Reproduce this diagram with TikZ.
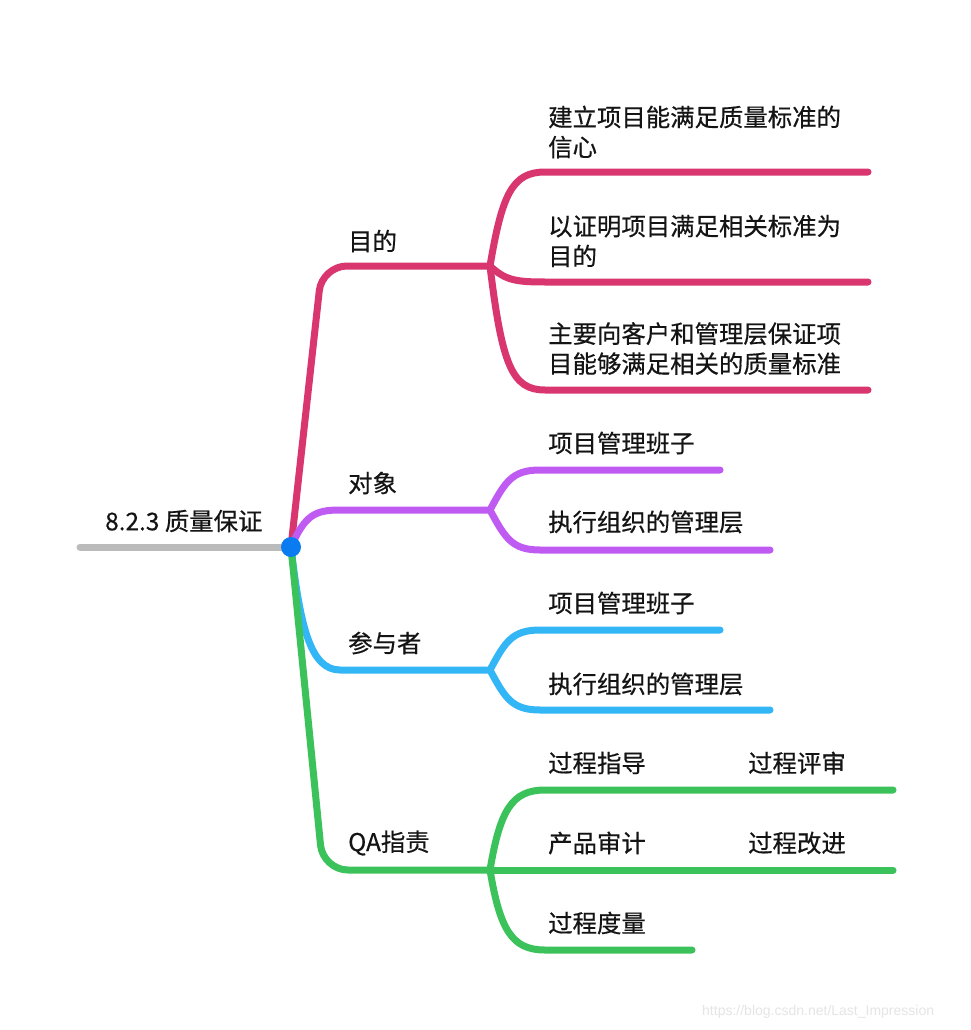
\documentclass[tikz,border=0pt]{standalone}
\usepackage{fontspec}
\newfontfamily\cjk{Noto Sans CJK SC}[BoldFont={Noto Sans CJK SC}, BoldFeatures={FakeBold=0.5}]
\newfontfamily\wmfont{Liberation Sans}
\definecolor{pinkc}{HTML}{D9366F}
\definecolor{purplec}{HTML}{BF5AF2}
\definecolor{bluec}{HTML}{32B6F5}
\definecolor{greenc}{HTML}{3CC25A}
\definecolor{grayc}{HTML}{BBBBBB}
\definecolor{dotc}{HTML}{0A7BF0}
\begin{document}
\begin{tikzpicture}[x=1pt,y=-1pt,
  br/.style={line width=7pt, line cap=round, line join=round},
  lbl/.style={font=\cjk\bfseries\fontsize{24.4}{30}\selectfont, anchor=west, inner sep=0pt, align=left, text=black!92}]
\useasboundingbox (0,0) rectangle (971,1030);
\fill[white] (0,0) rectangle (971,1030);
% coordinates
\coordinate (c) at (291,547);
\coordinate (L) at (80,547);
\coordinate (j1) at (490,266);
\coordinate (j2) at (490,510);
\coordinate (j3) at (490,670);
\coordinate (j4) at (490,870);
\coordinate (p1) at (868,172);
\coordinate (p2) at (868,282);
\coordinate (p3) at (868,390);
\coordinate (u1) at (720,470);
\coordinate (u2) at (770,550);
\coordinate (b1) at (720,630);
\coordinate (b2) at (770,710);
\coordinate (g1) at (893,790);
\coordinate (g2) at (893,870);
\coordinate (g3) at (692,950);
% root line
\draw[br, grayc] (L) -- (c);
% branch 1
\draw[br, pinkc, rounded corners=25pt] (c) -- (322,266) -- (j1);
\draw[br, pinkc] (j1) .. controls (502,195) and (512,172) .. (545,172) -- (p1);
\draw[br, pinkc] (j1) .. controls (505,280) and (515,282) .. (545,282) -- (p2);
\draw[br, pinkc] (j1) .. controls (502,365) and (512,390) .. (545,390) -- (p3);
% branch 2
\draw[br, purplec] (c) .. controls (305,515) and (315,510) .. (340,510) -- (j2);
\draw[br, purplec] (j2) .. controls (505,482) and (512,470) .. (540,470) -- (u1);
\draw[br, purplec] (j2) .. controls (505,538) and (512,550) .. (540,550) -- (u2);
% branch 3
\draw[br, bluec] (c) .. controls (300,625) and (310,670) .. (340,670) -- (j3);
\draw[br, bluec] (j3) .. controls (505,642) and (512,630) .. (540,630) -- (b1);
\draw[br, bluec] (j3) .. controls (505,698) and (512,710) .. (540,710) -- (b2);
% branch 4
\draw[br, greenc, rounded corners=25pt] (c) -- (323,870) -- (j4);
\draw[br, greenc] (j4) .. controls (500,810) and (512,790) .. (545,790) -- (g1);
\draw[br, greenc] (j4) -- (g2);
\draw[br, greenc] (j4) .. controls (500,930) and (512,950) .. (545,950) -- (g3);
% root dot
\node[circle, fill=dotc, minimum size=20pt, inner sep=0pt] (root) at (c) {};
% labels
\node[lbl] (t0) at (105,521) {8.2.3 质量保证};
\node[lbl] (t1) at (348,241) {目的};
\node[lbl] (t2) at (348,483) {对象};
\node[lbl] (t3) at (348,643) {参与者};
\node[lbl] (t4) at (348,843) {QA指责};
\node[lbl] (s11) at (548,132) {建立项目能满足质量标准的\\信心};
\node[lbl] (s12) at (548,241) {以证明项目满足相关标准为\\目的};
\node[lbl] (s13) at (548,348.5) {主要向客户和管理层保证项\\目能够满足相关的质量标准};
\node[lbl] (s21) at (548,443) {项目管理班子};
\node[lbl] (s22) at (548,522) {执行组织的管理层};
\node[lbl] (s31) at (548,603) {项目管理班子};
\node[lbl] (s32) at (548,684) {执行组织的管理层};
\node[lbl] (s41) at (548,763) {过程指导};
\node[lbl] (s42) at (748,763) {过程评审};
\node[lbl] (s43) at (548,843) {产品审计};
\node[lbl] (s44) at (748,843) {过程改进};
\node[lbl] (s45) at (548,923) {过程度量};
\node[anchor=west, inner sep=0pt, font=\wmfont\fontsize{14}{16}\selectfont, text=black!10] (wm) at (702,1012) {https://blog.csdn.net/Last\_Impression};
\end{tikzpicture}
\end{document}
